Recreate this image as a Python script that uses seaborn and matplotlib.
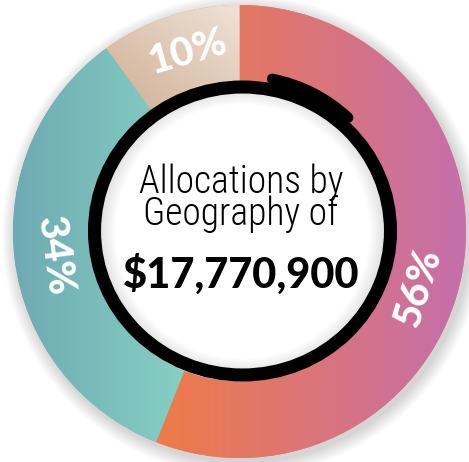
import numpy as np
import matplotlib
matplotlib.use('Agg')
import matplotlib.pyplot as plt
import seaborn as sns
from matplotlib.patches import Ellipse, Arc, Wedge

# data
shares = [56, 34, 10]
share_labels = ['56%', '34%', '10%']
title_lines = ['Allocations by', 'Geography of']
total_label = '$17,770,900'

# gradient colours per segment (start -> end)
seg_colors = [['#EE7B47', '#DB7579', '#C46FAC'],
              ['#6FAAB2', '#86D0C4'],
              ['#D0AE93', '#EEE3D8']]
seg_dirs = ['h', 'h', 'd']
label_shift = [-6.5, 0.5, -2.0]  # degrees, nudges the labels along the ring

sns.set_theme(style='white')
plt.rcParams['font.family'] = ['Lato', 'DejaVu Sans']

fig = plt.figure(figsize=(4.69, 4.62), dpi=100)
ax = fig.add_axes([0, 0, 1, 1])

R = 226.5
hole = 150

# soft outer shadow (rings only, so the hole stays white)
for i in range(14, 0, -1):
    ax.add_patch(Wedge((3, -4), R + i, 0, 360, width=i + 8, color='black',
                       alpha=0.012, lw=0, zorder=0))

wedges, _ = ax.pie(shares, radius=R, startangle=90, counterclock=False,
                   colors=[c[0] for c in seg_colors],
                   wedgeprops=dict(width=R - hole, linewidth=0))

for w, cols, d in zip(wedges, seg_colors, seg_dirs):
    w.set_zorder(1)
    cmap = sns.blend_palette(cols, as_cmap=True)
    ext = w.get_path().get_extents()
    if d == 'h':
        img = np.linspace(0, 1, 256)[None, :]
    else:
        gx, gy = np.meshgrid(np.linspace(0, 1, 128), np.linspace(0, 1, 128))
        img = (gx + gy) / 2
    im = ax.imshow(img, cmap=cmap, extent=(ext.x0, ext.x1, ext.y0, ext.y1),
                   origin='lower', interpolation='bilinear', zorder=2)
    im.set_clip_path(w)

# inner shadow inside the hole
for k in range(1, 16):
    ax.add_patch(Wedge((3, 0), 142, 0, 360, width=k, color='black',
                       alpha=0.007, lw=0, zorder=3))

# hand drawn ring
ax.add_patch(Ellipse((3, 0.5), 296, 288, fill=False, ec='black', lw=9.4, zorder=5))
ax.add_patch(Arc((3, 0.5), 310, 310, theta1=47, theta2=79, ec='black', lw=7.5,
                 capstyle='round', zorder=5))

# percentage labels along the ring
for w, lab, sh in zip(wedges, share_labels, label_shift):
    mid = (w.theta1 + w.theta2) / 2 + sh
    r = 187
    x = r * np.cos(np.radians(mid))
    y = r * np.sin(np.radians(mid))
    rot = (mid % 180) - 90
    ax.text(x, y, lab, ha='center', va='center', rotation=rot, rotation_mode='anchor',
            color='white', fontsize=29, fontweight=900, zorder=6)

# centre text
ax.text(1.5, 6.5, '\n'.join(title_lines), ha='center', va='baseline', fontsize=27,
        linespacing=0.8, fontweight=300, family=['Roboto Condensed', 'DejaVu Sans'],
        color='black', zorder=6)
ax.text(1.5, -56.5, total_label, ha='center', va='baseline', fontsize=30,
        fontweight=900, color='black', zorder=6)

ax.set_xlim(-239.5, 229.5)
ax.set_ylim(-230.5, 231.5)
ax.set_aspect('auto')
ax.axis('off')

fig.savefig('out.png', dpi=100, facecolor='white')
